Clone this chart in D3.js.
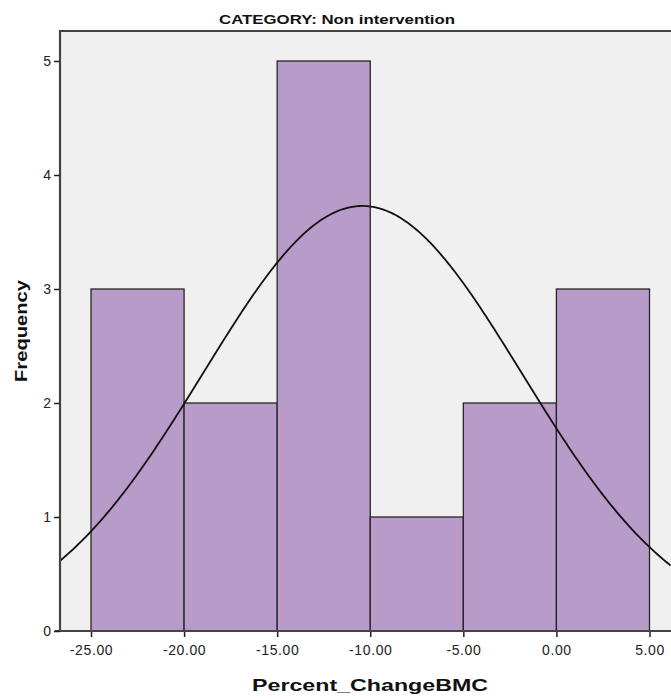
<!DOCTYPE html>
<html><head><meta charset="utf-8">
<script src="https://cdn.jsdelivr.net/npm/d3@7"></script>
<style>body{margin:0;background:#fff;} svg{display:block;font-family:"Liberation Sans",Arial,sans-serif;}</style>
</head><body>
<svg id="c" width="671" height="699"></svg>
<script>
const binStarts = [-25, -20, -15, -10, -5, 0];
const binEnds = [-20, -15, -10, -5, 0, 5];
const frequencies = [3, 2, 5, 1, 2, 3];
const xTicks = [-25, -20, -15, -10, -5, 0, 5];
const xTickLabels = ["-25.00", "-20.00", "-15.00", "-10.00", "-5.00", "0.00", "5.00"];
const yTicks = [0, 1, 2, 3, 4, 5];
const normalMean = -10.42;
const normalSD = 8.56;
const binWidth = 5;

const svg = d3.select("#c");
const L = 60, T = 31, R = 690, B = 631;
const x = d3.scaleLinear().domain([-25, 5]).range([91, 649.5]);
const y = d3.scaleLinear().domain([0, 5]).range([631, 61]);

svg.append("rect").attr("x", L).attr("y", T).attr("width", R - L).attr("height", B - T).attr("fill", "#f0f0f0");

svg.selectAll("rect.bar").data(frequencies).enter().append("rect")
  .attr("class", "bar")
  .attr("x", (d, i) => x(binStarts[i]))
  .attr("width", (d, i) => x(binEnds[i]) - x(binStarts[i]))
  .attr("y", d => y(d))
  .attr("height", d => y(0) - y(d))
  .attr("fill", "#b89bc9")
  .attr("stroke", "#262626")
  .attr("stroke-width", 1.3);

const n = d3.sum(frequencies);
const f = v => n * binWidth / (normalSD * Math.sqrt(2 * Math.PI)) * Math.exp(-0.5 * Math.pow((v - normalMean) / normalSD, 2));
const xs = d3.range(x.invert(L), x.invert(671) + 0.05, 0.1);
svg.append("path")
  .attr("d", d3.line().x(v => x(v)).y(v => y(f(v)))(xs))
  .attr("fill", "none").attr("stroke", "#111").attr("stroke-width", 1.8);

svg.append("path").attr("d", `M${L},${B}V${T}H${R}`).attr("fill", "none").attr("stroke", "#444").attr("stroke-width", 2.2);

const xAxis = d3.axisBottom(x).tickValues(xTicks).tickFormat((d, i) => xTickLabels[i]).tickSize(6).tickPadding(8);
const gx = svg.append("g").attr("transform", `translate(0,${B})`).call(xAxis);
gx.select(".domain").remove();
svg.append("line").attr("x1", L - 5).attr("x2", R).attr("y1", B).attr("y2", B).attr("stroke", "#444").attr("stroke-width", 2.2);
gx.selectAll(".tick line").attr("stroke", "#222").attr("stroke-width", 1.5);
gx.selectAll(".tick text").attr("font-size", 14).attr("letter-spacing", "0.6px").attr("fill", "#222").attr("font-family", "'Liberation Sans',Arial,sans-serif");

const yAxis = d3.axisLeft(y).tickValues(yTicks).tickFormat(d3.format("d")).tickSize(6).tickPadding(3);
const gy = svg.append("g").attr("transform", `translate(${L},0)`).call(yAxis);
gy.select(".domain").remove();
gy.selectAll(".tick line").attr("stroke", "#222").attr("stroke-width", 1.5);
gy.selectAll(".tick text").attr("font-size", 14).attr("fill", "#222").attr("font-family", "'Liberation Sans',Arial,sans-serif");

svg.append("text").attr("x", 337).attr("y", 24).attr("text-anchor", "middle")
  .attr("font-size", 13).attr("font-weight", "bold").attr("fill", "#111")
  .attr("textLength", 236).attr("lengthAdjust", "spacingAndGlyphs")
  .text("CATEGORY: Non intervention");
svg.append("text").attr("x", 370).attr("y", 691).attr("text-anchor", "middle")
  .attr("font-size", 17).attr("font-weight", "bold").attr("fill", "#111")
  .attr("textLength", 236).attr("lengthAdjust", "spacingAndGlyphs")
  .text("Percent_ChangeBMC");
svg.append("text").attr("transform", "translate(27,331) rotate(-90)").attr("text-anchor", "middle")
  .attr("font-size", 16).attr("font-weight", "bold").attr("fill", "#111")
  .attr("textLength", 102).attr("lengthAdjust", "spacingAndGlyphs")
  .text("Frequency");
</script>
</body></html>
